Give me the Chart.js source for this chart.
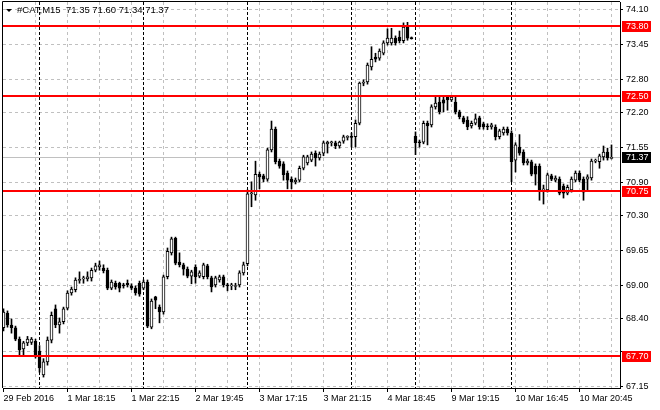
<!DOCTYPE html>
<html>
<head>
<meta charset="utf-8">
<script src="https://cdn.jsdelivr.net/npm/chart.js@4.4.1/dist/chart.umd.min.js"></script>
<style>
html, body { margin: 0; padding: 0; background: #fff; }
</style>
</head>
<body>
<canvas id="chart" width="660" height="410"></canvas>
<script>
const symbolName = '#CAT';
const timeframe = 'M15';

// M15 bars
const openP = [
    68.23, 68.50, 68.28, 68.23, 68.02, 67.84, 67.95, 67.96, 67.98, 67.80,
    67.36, 67.60, 68.00, 68.58, 68.28, 68.34, 68.59, 68.87, 68.93, 69.10,
    69.13, 69.13, 69.15, 69.29, 69.35, 69.33, 69.29, 68.96, 69.05, 69.05,
    69.02, 69.05, 69.00, 68.96, 69.05, 68.96, 69.07, 68.24, 68.80, 68.61,
    68.52, 69.17, 69.61, 69.88, 69.44, 69.39, 69.31, 69.18, 69.35, 69.18,
    69.17, 69.37, 69.15, 69.02, 69.11, 69.17, 69.02, 69.00, 68.99, 69.02,
    69.24, 69.41, 70.70, 70.68, 71.06, 71.03, 70.97, 71.51, 71.89, 71.30,
    71.25, 71.08, 70.97, 70.92, 70.95, 71.17, 71.27, 71.32, 71.45, 71.36,
    71.45, 71.62, 71.64, 71.64, 71.58, 71.67, 71.74, 71.75, 71.75, 72.00,
    72.74, 72.76, 73.04, 73.22, 73.20, 73.29, 73.48, 73.48, 73.57, 73.59,
    73.52, 73.79, 73.57, 71.76, 71.65, 71.65, 72.00, 71.97, 72.30, 72.39,
    72.43, 72.48, 72.43, 72.39, 72.21, 72.10, 72.06, 71.95, 72.00, 72.10,
    71.99, 71.94, 71.93, 71.93, 71.75, 71.82, 71.89, 71.82, 71.32, 71.56,
    71.47, 71.27, 71.29, 71.21, 71.21, 70.77, 70.77, 71.03, 70.95, 70.97,
    70.84, 70.71, 70.77, 70.95, 71.08, 70.97, 70.97, 70.99, 71.30, 71.29,
    71.38, 71.47, 71.35
];
const highP = [
    68.58, 68.54, 68.39, 68.26, 68.06, 67.98, 68.07, 68.05, 68.02, 67.90,
    67.66, 68.06, 68.52, 68.65, 68.41, 68.61, 68.91, 68.98, 69.15, 69.26,
    69.18, 69.26, 69.33, 69.42, 69.46, 69.39, 69.33, 69.11, 69.09, 69.07,
    69.05, 69.11, 69.04, 69.00, 69.09, 69.11, 69.11, 68.76, 68.81, 68.65,
    69.20, 69.70, 69.90, 69.90, 69.61, 69.42, 69.35, 69.29, 69.39, 69.28,
    69.42, 69.40, 69.18, 69.18, 69.20, 69.20, 69.05, 69.05, 69.05, 69.28,
    69.44, 70.77, 70.92, 71.30, 71.10, 71.06, 71.54, 72.04, 71.93, 71.34,
    71.29, 71.12, 71.01, 70.99, 71.21, 71.41, 71.41, 71.47, 71.49, 71.47,
    71.67, 71.67, 71.67, 71.67, 71.67, 71.78, 71.77, 71.82, 72.06, 72.76,
    72.80, 73.11, 73.41, 73.29, 73.37, 73.52, 73.74, 73.75, 73.61, 73.70,
    73.85, 73.86, 73.59, 71.84, 71.69, 72.04, 72.04, 72.34, 72.48, 72.48,
    72.48, 72.50, 72.50, 72.48, 72.24, 72.13, 72.12, 72.04, 72.17, 72.13,
    72.02, 71.99, 72.00, 71.97, 71.89, 71.93, 71.93, 71.86, 71.64, 71.79,
    71.51, 71.34, 71.32, 71.25, 71.25, 70.86, 71.08, 71.06, 71.03, 71.01,
    70.88, 70.86, 71.01, 71.12, 71.12, 71.01, 71.05, 71.34, 71.34, 71.43,
    71.58, 71.54, 71.60
];
const lowP = [
    68.17, 68.24, 68.13, 67.99, 67.73, 67.73, 67.90, 67.92, 67.67, 67.41,
    67.32, 67.54, 67.95, 68.23, 68.13, 68.30, 68.56, 68.83, 68.89, 69.05,
    69.05, 69.09, 69.09, 69.26, 69.29, 69.24, 68.93, 68.93, 68.94, 68.89,
    68.96, 68.98, 68.93, 68.83, 68.81, 68.93, 68.23, 68.21, 68.58, 68.32,
    68.48, 69.13, 69.57, 69.39, 69.35, 69.20, 69.15, 69.04, 69.05, 69.15,
    69.13, 69.13, 68.89, 68.98, 69.07, 68.98, 68.91, 68.93, 68.93, 68.98,
    69.20, 69.37, 70.46, 70.58, 70.79, 70.92, 70.93, 71.47, 71.25, 71.17,
    70.95, 70.79, 70.79, 70.88, 70.92, 71.14, 71.23, 71.29, 71.21, 71.32,
    71.40, 71.45, 71.58, 71.53, 71.54, 71.63, 71.69, 71.56, 71.56, 71.97,
    72.69, 72.72, 72.98, 73.13, 73.16, 73.26, 73.44, 73.44, 73.44, 73.48,
    73.48, 73.53, 73.55, 71.42, 71.56, 71.62, 71.60, 71.93, 72.26, 72.17,
    72.21, 72.24, 72.40, 72.17, 72.08, 71.99, 71.88, 71.91, 71.97, 71.89,
    71.89, 71.88, 71.89, 71.69, 71.71, 71.78, 71.78, 70.92, 71.10, 71.41,
    71.23, 71.23, 71.03, 70.86, 70.58, 70.51, 70.73, 70.94, 70.92, 70.68,
    70.62, 70.68, 70.73, 70.92, 70.92, 70.58, 70.77, 70.95, 71.27, 71.17,
    71.32, 71.32, 71.34
];
const closeP = [
    68.52, 68.28, 68.23, 68.02, 67.82, 67.95, 68.02, 68.02, 67.73, 67.49,
    67.60, 68.00, 68.46, 68.28, 68.34, 68.58, 68.87, 68.94, 69.11, 69.12,
    69.14, 69.17, 69.29, 69.37, 69.39, 69.28, 68.96, 69.07, 68.98, 68.96,
    69.00, 69.02, 68.96, 68.87, 68.85, 69.07, 68.26, 68.72, 68.74, 68.52,
    69.17, 69.64, 69.87, 69.42, 69.39, 69.31, 69.18, 69.26, 69.17, 69.24,
    69.39, 69.17, 68.98, 69.15, 69.17, 69.02, 69.00, 69.02, 69.00, 69.24,
    69.39, 70.70, 70.71, 71.06, 71.01, 70.97, 71.51, 71.89, 71.29, 71.21,
    71.05, 70.95, 70.92, 70.95, 71.17, 71.38, 71.38, 71.43, 71.36, 71.43,
    71.64, 71.65, 71.65, 71.58, 71.65, 71.75, 71.75, 71.74, 72.00, 72.74,
    72.76, 73.07, 73.18, 73.18, 73.33, 73.48, 73.57, 73.57, 73.48, 73.52,
    73.77, 73.57, 73.56, 71.64, 71.64, 72.00, 71.95, 72.30, 72.37, 72.21,
    72.37, 72.43, 72.48, 72.21, 72.12, 72.02, 71.93, 72.00, 72.08, 71.93,
    71.93, 71.93, 71.97, 71.75, 71.86, 71.89, 71.82, 71.29, 71.60, 71.45,
    71.27, 71.30, 71.06, 71.06, 70.77, 70.79, 71.05, 70.97, 70.99, 70.71,
    70.71, 70.82, 70.97, 71.08, 70.95, 70.73, 71.01, 71.30, 71.31, 71.40,
    71.47, 71.36, 71.37
];

// time axis: label every 16 bars, grid every 8
const xTickIndex = [0, 16, 32, 48, 64, 80, 96, 112, 128, 144];
const xTickLabels = ['29 Feb 2016', '1 Mar 18:15', '1 Mar 22:15', '2 Mar 19:45', '3 Mar 17:15',
    '3 Mar 21:15', '4 Mar 18:45', '9 Mar 19:15', '10 Mar 16:45', '10 Mar 20:45'];
const gridStep = 8;
const daySeparators = [9, 35, 61, 87, 103, 127];

// price axis
const yTicks = [74.10, 73.45, 72.80, 72.20, 71.55, 70.90, 70.30, 69.65, 69.00, 68.40, 67.80, 67.15];
const hiddenYTicks = [67.80];
const levels = [73.80, 72.50, 70.75, 67.70];

const bars = openP.map((o, i) => i);
const last = bars.length - 1;
const bidPrice = closeP[last];
const gridIdx = bars.filter(i => i % gridStep === 0);

Chart.defaults.font.family = '"Liberation Sans", Arial, sans-serif';
Chart.defaults.font.size = 9;
Chart.defaults.color = '#000';

const mtOverlay = {
    id: 'mtOverlay',
    beforeDatasetsDraw(chart) {
        const { ctx, chartArea: a, scales: { x, y } } = chart;
        ctx.save();
        ctx.lineWidth = 1;
        ctx.strokeStyle = '#000';
        ctx.setLineDash([3, 2]);
        daySeparators.forEach(i => {
            const px = Math.floor(x.getPixelForValue(i)) + 0.5;
            ctx.beginPath();
            ctx.moveTo(px, a.top);
            ctx.lineTo(px, a.bottom);
            ctx.stroke();
        });
        ctx.setLineDash([]);
        ctx.strokeStyle = '#c0c0c0';
        const by = Math.floor(y.getPixelForValue(bidPrice)) + 0.5;
        ctx.beginPath();
        ctx.moveTo(a.left, by);
        ctx.lineTo(a.right, by);
        ctx.stroke();
        ctx.restore();
    },
    afterDatasetsDraw(chart) {
        const { ctx, chartArea: a, scales: { y } } = chart;
        ctx.save();
        ctx.fillStyle = '#ff0000';
        levels.forEach(v => {
            const py = Math.round(y.getPixelForValue(v));
            ctx.fillRect(a.left, py - 1, a.right - a.left, 2);
        });
        ctx.restore();
    },
    afterDraw(chart) {
        const { ctx, chartArea: a, scales: { y } } = chart;
        ctx.save();
        // frame top + left
        ctx.strokeStyle = '#000';
        ctx.lineWidth = 1;
        ctx.beginPath();
        ctx.moveTo(a.left - 0.5, a.bottom);
        ctx.lineTo(a.left - 0.5, a.top - 0.5);
        ctx.lineTo(a.right, a.top - 0.5);
        ctx.stroke();

        // price tags on the axis
        ctx.font = '9px "Liberation Sans", Arial, sans-serif';
        ctx.textBaseline = 'middle';
        ctx.textAlign = 'left';
        const tag = (v, bg) => {
            const py = Math.round(y.getPixelForValue(v));
            ctx.fillStyle = bg;
            ctx.fillRect(a.right + 2, py - 5, 29, 11);
            ctx.fillStyle = '#fff';
            ctx.fillText(v.toFixed(2), a.right + 6, py + 0.5);
        };
        levels.forEach(v => tag(v, '#ff0000'));
        tag(bidPrice, '#000');

        // header
        ctx.fillStyle = '#000';
        ctx.beginPath();
        ctx.moveTo(6, 9);
        ctx.lineTo(12, 9);
        ctx.lineTo(9, 12);
        ctx.closePath();
        ctx.fill();
        ctx.font = '9.5px "Liberation Sans", Arial, sans-serif';
        ctx.textBaseline = 'alphabetic';
        const head = `${symbolName},${timeframe}  ${openP[last].toFixed(2)} ${highP[last].toFixed(2)} ` +
            `${lowP[last].toFixed(2)} ${closeP[last].toFixed(2)}`;
        ctx.fillText(head, 17, 13);
        ctx.restore();
    }
};

new Chart(document.getElementById('chart'), {
    type: 'bar',
    data: {
        datasets: [
            {
                label: 'Body',
                data: bars.map(i => ({ x: i, y: [openP[i], closeP[i]] })),
                backgroundColor: bars.map(i => closeP[i] >= openP[i] ? '#ffffff' : '#000000'),
                borderColor: '#000000',
                borderWidth: 1,
                borderSkipped: false,
                barThickness: 3,
                minBarLength: 1,
                grouped: false,
                order: 1
            },
            {
                label: 'Wick',
                data: bars.map(i => ({ x: i, y: [lowP[i], highP[i]] })),
                backgroundColor: '#000000',
                borderWidth: 0,
                barThickness: 1,
                grouped: false,
                order: 2
            }
        ]
    },
    options: {
        responsive: false,
        animation: false,
        devicePixelRatio: 1,
        layout: { padding: { left: 3, top: 2, right: 0, bottom: 0 } },
        plugins: {
            legend: { display: false },
            tooltip: { enabled: false }
        },
        scales: {
            x: {
                type: 'linear',
                min: -0.125,
                max: bars.length + 1.125,
                offset: false,
                afterFit: s => { s.height = 22; s.paddingLeft = 0; s.paddingRight = 0; },
                afterBuildTicks: s => { s.ticks = gridIdx.map(v => ({ value: v })); },
                grid: {
                    offset: false,
                    color: c => (c.tick && c.tick.value === 0) ? 'rgba(0,0,0,0)' : '#c0c0c0',
                    tickColor: c => (c.tick && xTickIndex.includes(c.tick.value)) ? '#000' : 'rgba(0,0,0,0)',
                    tickLength: 4
                },
                border: { color: '#000', dash: [3, 3] },
                ticks: {
                    autoSkip: false,
                    maxRotation: 0,
                    minRotation: 0,
                    align: 'start',
                    padding: 1,
                    callback: v => {
                        const k = xTickIndex.indexOf(v);
                        return k >= 0 ? xTickLabels[k] : '';
                    }
                }
            },
            y: {
                position: 'right',
                min: 67.1187,
                max: 74.2346,
                afterFit: s => { s.width = 40; s.paddingTop = 0; s.paddingBottom = 0; },
                afterBuildTicks: s => { s.ticks = yTicks.map(v => ({ value: v })); },
                grid: { color: '#c0c0c0', tickColor: '#000', tickLength: 3 },
                border: { color: '#000', dash: [3, 3] },
                ticks: {
                    padding: 3,
                    callback: v => hiddenYTicks.includes(v) ? '' : v.toFixed(2)
                }
            }
        }
    },
    plugins: [mtOverlay]
});
</script>
</body>
</html>
